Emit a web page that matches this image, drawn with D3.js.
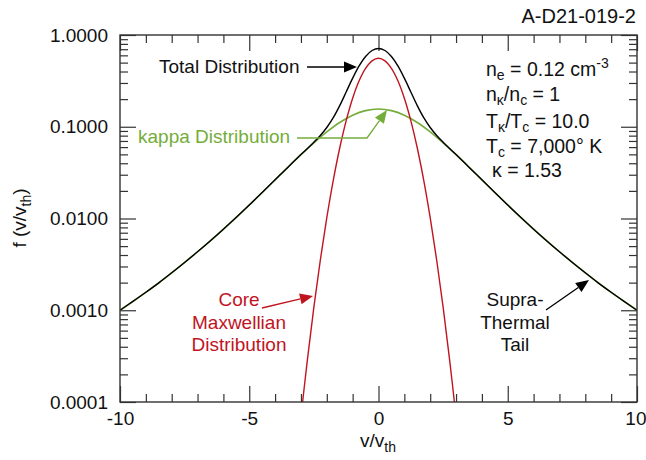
<!DOCTYPE html>
<html>
<head>
<meta charset="utf-8">
<script src="https://cdn.jsdelivr.net/npm/d3@7"></script>
<style>
  body { margin: 0; background: #fff; }
  text { font-family: "Liberation Sans", Arial, Helvetica, sans-serif; }
</style>
</head>
<body>
<script>
// values (v/vth, f)
const kappaV = [-10,-9.5,-9,-8.5,-8,-7.5,-7,-6.5,-6,-5.5,-5,-4.5,-4,-3.5,-3,-2.5,-2,-1.5,-1,-0.5,
    0,0.5,1,1.5,2,2.5,3,3.5,4,4.5,5,5.5,6,6.5,7,7.5,8,8.5,9,9.5,10];
const kappaF = [0.00100,0.00125,0.00157,0.00199,0.00256,0.00332,0.00434,0.00573,0.00765,0.0103,0.0140,
    0.0192,0.0264,0.0363,0.0496,0.0668,0.0879,0.1112,0.1334,0.1498,
    0.156,
    0.1498,0.1334,0.1112,0.0879,0.0668,0.0496,0.0363,0.0264,0.0192,0.0140,0.0103,0.00765,0.00573,
    0.00434,0.00332,0.00256,0.00199,0.00157,0.00125,0.00100];

const coreV = [-3,-2.75,-2.5,-2.25,-2,-1.75,-1.5,-1.25,-1,-0.75,-0.5,-0.25,
    0,0.25,0.5,0.75,1,1.25,1.5,1.75,2,2.25,2.5,2.75,3];
const coreF = [0.000069,0.000290,0.00108,0.00353,0.0102,0.0261,0.0587,0.1168,0.2049,0.3174,0.4338,0.5233,
    0.557,
    0.5233,0.4338,0.3174,0.2049,0.1168,0.0587,0.0261,0.0102,0.00353,0.00108,0.000290,0.000069];

const totalV = [-10,-9.5,-9,-8.5,-8,-7.5,-7,-6.5,-6,-5.5,-5,-4.5,-4,-3.5,
    -3,-2.75,-2.5,-2.25,-2,-1.75,-1.5,-1.25,-1,-0.75,-0.5,-0.25,
    0,0.25,0.5,0.75,1,1.25,1.5,1.75,2,2.25,2.5,2.75,3,
    3.5,4,4.5,5,5.5,6,6.5,7,7.5,8,8.5,9,9.5,10];
const totalF = [0.00100,0.00125,0.00157,0.00199,0.00256,0.00332,0.00434,0.00573,0.00765,0.0103,0.0140,0.0192,0.0264,0.0363,
    0.0497,0.0580,0.0679,0.0804,0.0981,0.1255,0.1699,0.2395,0.3383,0.4601,0.5836,0.6778,
    0.713,0.6778,0.5836,0.4601,0.3383,0.2395,0.1699,0.1255,0.0981,0.0804,0.0679,0.0580,0.0497,
    0.0363,0.0264,0.0192,0.0140,0.0103,0.00765,0.00573,0.00434,0.00332,0.00256,0.00199,0.00157,0.00125,0.00100];

const yMajor = [1, 0.1, 0.01, 0.001, 0.0001];
const xMajor = [-10, -5, 0, 5, 10];

const W = 646, H = 460;
const margin = { top: 35, right: 9, bottom: 58, left: 120 };
const GREEN = '#74ad3a', RED = '#c0141f', AXIS = '#333';

const svg = d3.select('body').append('svg')
    .attr('width', W)
    .attr('height', H);

const x = d3.scaleLinear().domain([-10, 10]).range([margin.left, W - margin.right]);
const y = d3.scaleLog().domain([0.0001, 1]).range([H - margin.bottom, margin.top]);

// minor ticks: 2..9 in each decade, and every unit on x
const yMinor = [];
for (let e = -4; e < 0; e++) for (let m = 2; m <= 9; m++) yMinor.push(m * Math.pow(10, e));
const xMinor = d3.range(-10, 11).filter(v => v % 5 !== 0);

const x0 = x(-10), x1 = x(10), y0 = y(1), y1 = y(0.0001);

const styleAxis = g => {
    g.select('.domain').remove();
    g.selectAll('line').attr('stroke', AXIS).attr('stroke-width', 1.2);
    g.selectAll('text').attr('fill', '#111').style('font-size', '19px')
        .style('font-family', '"Liberation Sans", Arial, sans-serif');
};

// left
svg.append('g').attr('transform', `translate(${x0},0)`)
    .call(d3.axisLeft(y).tickValues(yMajor).tickFormat(d3.format('.4f'))
        .tickSizeInner(-16).tickSizeOuter(0).tickPadding(12))
    .call(styleAxis);
svg.append('g').attr('transform', `translate(${x0},0)`)
    .call(d3.axisLeft(y).tickValues(yMinor).tickFormat('').tickSizeInner(-8).tickSizeOuter(0))
    .call(styleAxis);
// right
svg.append('g').attr('transform', `translate(${x1},0)`)
    .call(d3.axisRight(y).tickValues(yMajor).tickFormat('').tickSizeInner(-16).tickSizeOuter(0))
    .call(styleAxis);
svg.append('g').attr('transform', `translate(${x1},0)`)
    .call(d3.axisRight(y).tickValues(yMinor).tickFormat('').tickSizeInner(-8).tickSizeOuter(0))
    .call(styleAxis);
// bottom
const bottom = svg.append('g').attr('transform', `translate(0,${y1})`)
    .call(d3.axisBottom(x).tickValues(xMajor).tickFormat(d3.format('d'))
        .tickSizeInner(-16).tickSizeOuter(0).tickPadding(10))
    .call(styleAxis);
// keep the last label inside the page
bottom.selectAll('.tick').filter(d => d === 10).select('text').attr('text-anchor', 'end').attr('x', 9);
svg.append('g').attr('transform', `translate(0,${y1})`)
    .call(d3.axisBottom(x).tickValues(xMinor).tickFormat('').tickSizeInner(-8).tickSizeOuter(0))
    .call(styleAxis);
// top
svg.append('g').attr('transform', `translate(0,${y0})`)
    .call(d3.axisTop(x).tickValues(xMajor).tickFormat('').tickSizeInner(-16).tickSizeOuter(0))
    .call(styleAxis);
svg.append('g').attr('transform', `translate(0,${y0})`)
    .call(d3.axisTop(x).tickValues(xMinor).tickFormat('').tickSizeInner(-8).tickSizeOuter(0))
    .call(styleAxis);

// unicode minus -> hyphen like the reference
svg.selectAll('text').text(function () { return d3.select(this).text().replace('\u2212', '-'); });

// curves
svg.append('clipPath').attr('id', 'plot')
    .append('rect').attr('x', x0).attr('y', y0).attr('width', x1 - x0).attr('height', y1 - y0);

const line = d3.line()
    .x(d => x(d[0]))
    .y(d => y(d[1]))
    .curve(d3.curveCatmullRom);

const curves = svg.append('g').attr('clip-path', 'url(#plot)');
curves.append('path')
    .attr('d', line(d3.zip(kappaV, kappaF)))
    .attr('fill', 'none').attr('stroke', GREEN).attr('stroke-width', 1.6);
curves.append('path')
    .attr('d', line(d3.zip(coreV, coreF)))
    .attr('fill', 'none').attr('stroke', RED).attr('stroke-width', 1.4);
curves.append('path')
    .attr('d', line(d3.zip(totalV, totalF)))
    .attr('fill', 'none').attr('stroke', '#000').attr('stroke-width', 1.4);

// frame
svg.append('rect')
    .attr('x', x0).attr('y', y0).attr('width', x1 - x0).attr('height', y1 - y0)
    .attr('fill', 'none').attr('stroke', AXIS).attr('stroke-width', 1.4);

// arrows
const arrow = (pts, color) => {
    const n = pts.length;
    const [tx, ty] = pts[n - 1];
    const [px, py] = pts[n - 2];
    const a = Math.atan2(ty - py, tx - px);
    const len = 13, half = 5.5;
    const bx = tx - len * Math.cos(a), by = ty - len * Math.sin(a);
    svg.append('path')
        .attr('d', d3.line()(pts.slice(0, n - 1).concat([[bx, by]])))
        .attr('fill', 'none').attr('stroke', color).attr('stroke-width', 1.3);
    svg.append('path')
        .attr('d', d3.line()([[tx, ty],
            [bx + half * Math.sin(a), by - half * Math.cos(a)],
            [bx - half * Math.sin(a), by + half * Math.cos(a)]]) + 'Z')
        .attr('fill', color);
};

const label = (lines, xx, yy, color, anchor) => {
    const t = svg.append('text')
        .attr('fill', color)
        .attr('text-anchor', anchor || 'start')
        .style('font-size', '19px');
    lines.forEach((s, i) => {
        t.append('tspan').attr('x', xx).attr('y', yy + i * 22.5).text(s);
    });
    return t;
};

label(['Total Distribution'], 159, 73, '#111');
arrow([[307, 67], [357, 67]], '#000');

label(['kappa Distribution'], 138, 143, GREEN);
arrow([[297, 138], [367, 138], [387, 110]], GREEN);

label(['Core', 'Maxwellian', 'Distribution'], 239, 306, RED, 'middle');
arrow([[262, 308], [313, 296]], RED);

label(['Supra-', 'Thermal', 'Tail'], 515, 306, '#111', 'middle');
arrow([[546, 310], [589, 280]], '#000');

// title code
svg.append('text').attr('x', 636).attr('y', 23).attr('text-anchor', 'end')
    .attr('fill', '#111').style('font-size', '20px').text('A-D21-019-2');

// parameter block
const params = svg.append('g').attr('fill', '#111').style('font-size', '19.5px');
const rich = (parts, xx, yy) => {
    const t = params.append('text').attr('x', xx).attr('y', yy);
    let shift = 0;
    parts.forEach(([s, kind]) => {
        const target = kind === 'sub' ? 4 : kind === 'sup' ? -8 : 0;
        t.append('tspan')
            .attr('dy', target - shift)
            .style('font-size', kind ? '14px' : null)
            .text(s);
        shift = target;
    });
};
rich([['n'], ['e', 'sub'], [' = 0.12 cm'], ['-3', 'sup']], 486, 76);
rich([['n'], ['\u03ba', 'sub'], ['/n'], ['c', 'sub'], [' = 1']], 486, 101);
rich([['T'], ['\u03ba', 'sub'], ['/T'], ['c', 'sub'], [' = 10.0']], 486, 128);
rich([['T'], ['c', 'sub'], [' = 7,000\u00b0 K']], 486, 152.5);
rich([['\u03ba = 1.53']], 492, 177);

// axis titles
const xt = svg.append('text').attr('x', 378).attr('y', 447).attr('text-anchor', 'middle')
    .attr('fill', '#111').style('font-size', '19px');
xt.append('tspan').text('v/v');
xt.append('tspan').attr('dy', 5).style('font-size', '14px').text('th');

const yt = svg.append('text')
    .attr('transform', 'translate(26,218) rotate(-90)')
    .attr('text-anchor', 'middle')
    .attr('fill', '#111').style('font-size', '19px');
yt.append('tspan').text('f (v/v');
yt.append('tspan').attr('dy', 5).style('font-size', '14px').text('th');
yt.append('tspan').attr('dy', -5).text(')');
</script>
</body>
</html>
